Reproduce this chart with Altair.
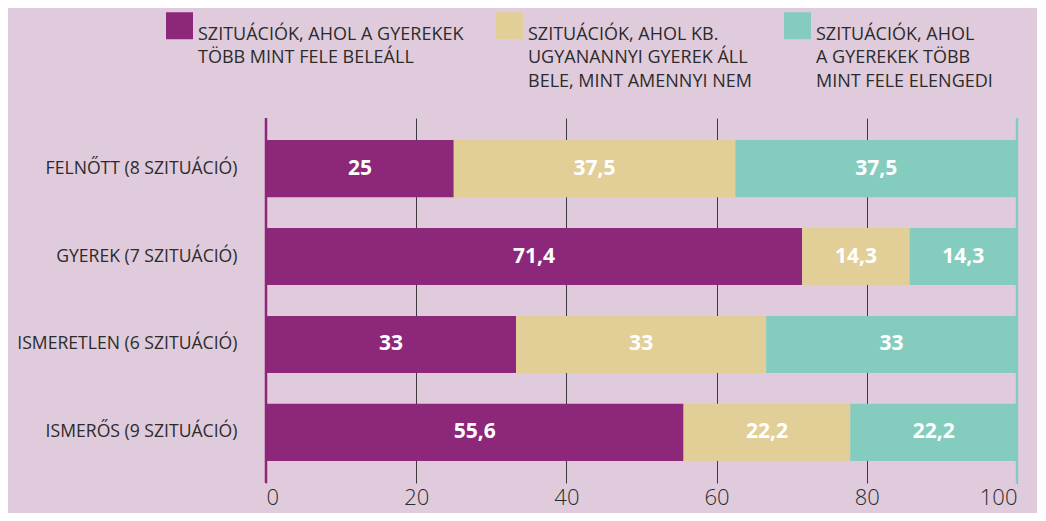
import altair as alt
import pandas as pd

categories = ["FELNŐTT (8 SZITUÁCIÓ)", "GYEREK (7 SZITUÁCIÓ)",
              "ISMERETLEN (6 SZITUÁCIÓ)", "ISMERŐS (9 SZITUÁCIÓ)"]
series = ["SZITUÁCIÓK, AHOL A GYEREKEK|TÖBB MINT FELE BELEÁLL| ",
          "SZITUÁCIÓK, AHOL KB.|UGYANANNYI GYEREK ÁLL|BELE, MINT AMENNYI NEM",
          "SZITUÁCIÓK, AHOL|A GYEREKEK TÖBB|MINT FELE ELENGEDI"]
colors = ["#8c2779", "#e2cf98", "#84cdbe"]

s1_values = [25, 71.4, 33.3, 55.6]
s2_values = [37.5, 14.3, 33.3, 22.2]
s3_values = [37.5, 14.3, 33.4, 22.2]
s1_labels = ["25", "71,4", "33", "55,6"]
s2_labels = ["37,5", "14,3", "33", "22,2"]
s3_labels = ["37,5", "14,3", "33", "22,2"]

edge_values = [0, 100]
edge_colors = ["#8c2779", "#84cdbe"]

rows = []
for si, (vals, labs) in enumerate([(s1_values, s1_labels), (s2_values, s2_labels), (s3_values, s3_labels)]):
    for c, v, l in zip(categories, vals, labs):
        rows.append({"cat": c, "series": series[si], "order": si, "value": v, "label": l})
df = pd.DataFrame(rows)
edges = pd.DataFrame({"x": edge_values, "color": edge_colors})

W, H = 751, 365
FONT = "Open Sans"

base = alt.Chart(df).transform_stack(
    stack="value", groupby=["cat"], as_=["x0", "x1"], sort=[alt.SortField("order")]
).transform_calculate(mid="(datum.x0 + datum.x1) / 2")

y_enc = alt.Y("cat:N", sort=categories, title=None,
              scale=alt.Scale(paddingInner=0.35, paddingOuter=0.25),
              axis=alt.Axis(ticks=False, domain=False, labelFont=FONT, labelFontSize=17.6,
                            labelColor="#2b2b2b", labelPadding=29, labelLimit=400))

bars = base.mark_bar().encode(
    x=alt.X("x0:Q", scale=alt.Scale(domain=[0, 100]), title=None,
            axis=alt.Axis(values=[0, 20, 40, 60, 80, 100], ticks=False, domain=False,
                          grid=True, gridColor="#3a3a3a", gridWidth=1,
                          labelFont=FONT, labelFontSize=22, labelFontWeight=300,
                          labelColor="#2b2b2b", labelPadding=4, labelBaseline="top")),
    x2="x1:Q",
    y=y_enc,
    color=alt.Color("series:N", scale=alt.Scale(domain=series, range=colors), title=None,
                    legend=alt.Legend(orient="none", legendX=-100, legendY=-106, direction="horizontal",
                                      columns=3, symbolType="square", symbolSize=729,
                                      symbolStrokeWidth=0, symbolOpacity=1, labelFont=FONT,
                                      labelFontSize=18, labelColor="#2b2b2b", labelLimit=500,
                                      labelOffset=5, labelBaseline="top", columnPadding=32,
                                      padding=0, labelExpr="split(datum.label, '|')")),
)

texts = base.mark_text(color="white", font=FONT, fontSize=21, fontWeight="bold").encode(
    x="mid:Q", y=alt.Y("cat:N", sort=categories), text="label:N")

rules = alt.Chart(edges).mark_rule(strokeWidth=2.5).encode(
    x="x:Q", color=alt.Color("color:N", scale=None))

chart = alt.layer(bars, texts, rules).properties(
    width=W, height=H, background="#e0cbdc",
    autosize=alt.AutoSizeParams(type="none"),
    padding={"left": 258, "top": 110, "right": 20, "bottom": 30},
).configure(style={"guide-label": {"lineHeight": 23.5}}).configure_view(strokeWidth=0)

chart.save("out.html", embed_options={"renderer": "svg", "actions": False})
